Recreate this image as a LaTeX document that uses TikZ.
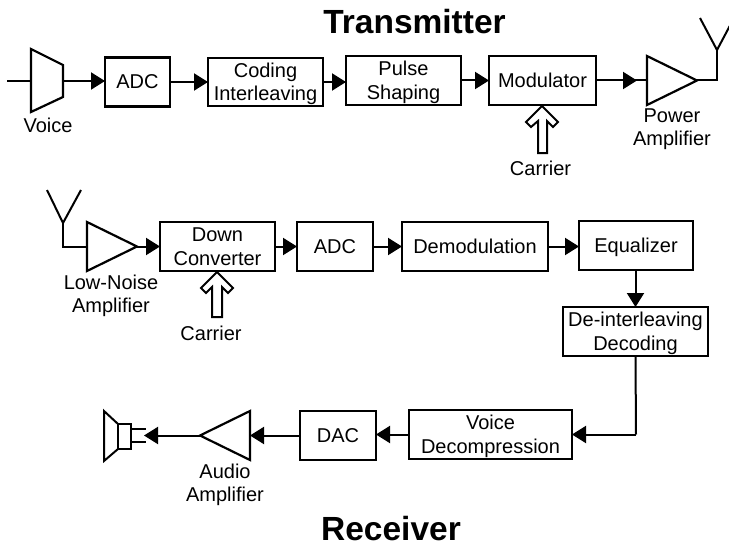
\documentclass[tikz,border=0pt]{standalone}
\usepackage{fontspec}
\setmainfont{Liberation Sans}
\usetikzlibrary{arrows.meta}
\tikzset{
  x=1pt,y=-1pt,
  wire/.style={line width=2pt,line join=miter},
  flow/.style={wire,-{Triangle[length=14pt,width=17pt]}},
  block/.style={draw,line width=2.2pt,fill=white,outer sep=0pt,inner sep=0pt,align=center,font=\fontsize{20}{23.5}\selectfont,minimum height=49pt},
  lbl/.style={inner sep=0pt,align=center,font=\fontsize{20}{23.5}\selectfont},
  ttl/.style={inner sep=0pt,font=\fontsize{33.5}{36}\selectfont\bfseries},
  ampshape/.style={line width=2.2pt,line join=miter,fill=white},
  outline/.style={line width=2pt,line join=miter},
}
\begin{document}
\begin{tikzpicture}
\useasboundingbox (0,0) rectangle (729,543);
\clip (0,0) rectangle (729,543);
\node[ttl] (tt) at (414.5,22) {Transmitter};
\node[ttl] (tr) at (391,529) {Receiver};
% transmitter blocks
\node[block,minimum width=65pt] (adc1) at (137.5,82) {ADC};
\node[block,minimum width=115pt,minimum height=48pt,text depth=0pt] (cod) at (265.5,82) {Coding\\Interleaving};
\node[block,minimum width=115pt,text depth=0pt] (pul) at (403.5,80.5) {Pulse\\Shaping};
\node[block,minimum width=107pt] (mod) at (542.5,80.5) {Modulator};
% microphone
\coordinate (micin) at (7,81);
\coordinate (micl) at (31,81);
\coordinate (micr) at (63,81);
\draw[ampshape] (31,49) -- (63,65) -- (63,97) -- (31,112) -- cycle;
\draw[wire] (micin) -- (micl);
\draw[flow] (micr) -- (adc1.west |- micr);
\draw[flow] (adc1.east) -- (cod.west);
\draw[flow] (cod.east) -- (pul.west |- cod.east);
\draw[flow] (pul.east) -- (mod.west);
% power amplifier
\coordinate (pai) at (647,80.5);
\coordinate (pao) at (697,80.5);
\coordinate (pat) at (717,50);
\draw[wire] (mod.east) -- (pai);
\draw[flow,shorten >=10pt] (mod.east) -- (pai);
\draw[ampshape] (647,56) -- (pao) -- (647,105) -- cycle;
\draw[wire] (pao) -| (pat);
\draw[wire] (700,18) -- (pat) -- (734,18);
\node[lbl] (vo) at (48,125) {Voice};
\node[lbl] (pa) at (672,129) {Power\\Amplifier};
\node[lbl] (c1) at (540.5,168) {Carrier};
% carrier arrow
\draw[outline,fill=white] (542,106) -- (558,122) -- (553,127) -- (547,121) -- (547,153) -- (538,153) -- (538,121) -- (531,127) -- (526,122) -- cycle;
% receiver blocks
\node[block,minimum width=115pt] (dow) at (217.5,246.5) {Down\\Converter};
\node[block,minimum width=76pt] (adc2) at (335,246.5) {ADC};
\node[block,minimum width=146pt] (dem) at (475,246.5) {Demodulation};
\node[block,minimum width=114pt,text depth=0pt] (equ) at (636,245.5) {Equalizer};
\node[block,minimum width=145pt,text depth=0pt] (dei) at (635.5,331.5) {De-interleaving\\Decoding};
\node[block,minimum width=163pt,text depth=0pt] (voi) at (490.5,434.5) {Voice\\Decompression};
\node[block,minimum width=76pt] (dac) at (338,435.5) {DAC};
% antenna and LNA
\coordinate (lnt) at (63,223);
\coordinate (lni) at (87,246.5);
\coordinate (lno) at (137,246.5);
\draw[wire] (47,190) -- (lnt) -- (81,190);
\draw[wire] (lnt) |- (lni);
\draw[ampshape] (87,222) -- (lno) -- (87,271) -- cycle;
\draw[flow] (lno) -- (dow.west);
\draw[flow] (dow.east) -- (adc2.west);
\draw[flow] (adc2.east) -- (dem.west);
\draw[flow] (dem.east) -- (equ.west |- dem.east);
\draw[flow] (equ.south -| dei.north) -- (dei.north);
\coordinate (bend) at (636,434.5);
\draw[wire] (dei.south) -- (bend);
\draw[flow] (bend) -- (voi.east);
\draw[flow] (voi.west) -- (dac.east |- voi.west);
\node[lbl] (ln) at (111,296) {Low-Noise\\Amplifier};
\node[lbl] (c2) at (211,333) {Carrier};
\draw[outline,fill=white] (217,272) -- (233,288) -- (228,293) -- (222,287) -- (222,317) -- (212,317) -- (212,287) -- (206,293) -- (201,288) -- cycle;
% audio amplifier
\coordinate (aai) at (250,435.5);
\coordinate (aao) at (200,435.5);
\coordinate (spk) at (144,435.5);
\draw[ampshape] (250,411) -- (aao) -- (250,460) -- cycle;
\draw[flow] (dac.west) -- (aai);
\draw[flow] (aao) -- (spk);
\node[lbl] (au) at (225,485) {Audio\\Amplifier};
% loudspeaker
\draw[outline] (118,424) -- (104,411) -- (104,461) -- (118,449);
\draw[outline] (118,424) rectangle (131,449);
\draw[line width=1.8pt] (131,429) -- (146,429) (131,442) -- (146,442);
\end{tikzpicture}
\end{document}
